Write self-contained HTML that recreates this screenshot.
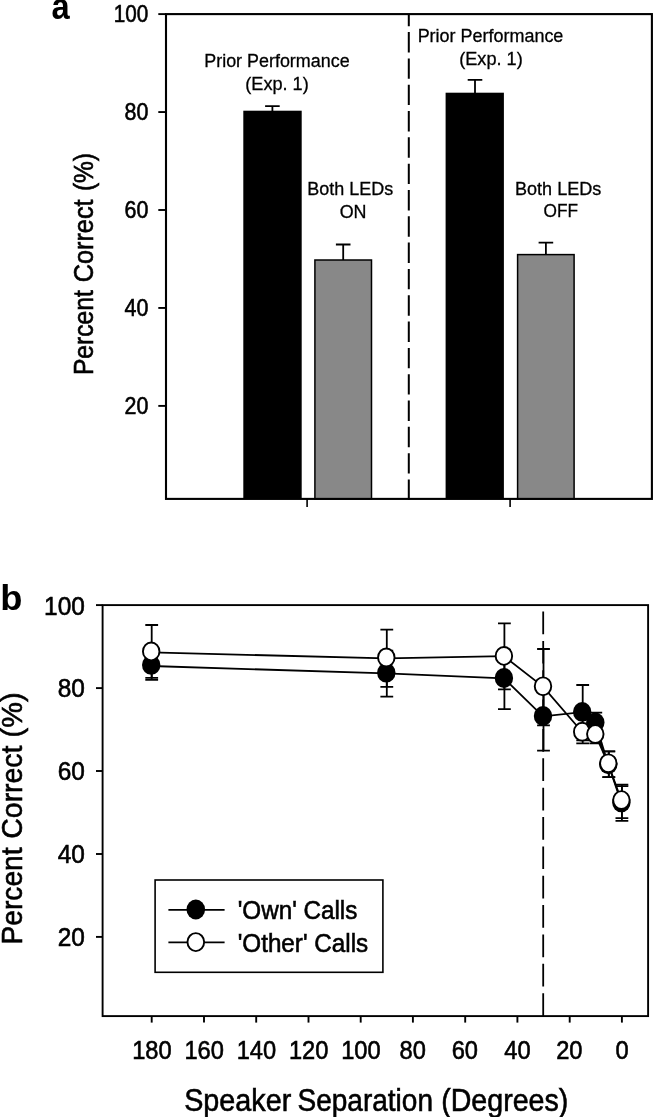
<!DOCTYPE html>
<html><head><meta charset="utf-8"><title>Figure</title>
<style>html,body{margin:0;padding:0;background:#fff;}body{width:653px;height:1117px;overflow:hidden;}svg{display:block;will-change:transform;filter:grayscale(1);}text{font-family:"Liberation Sans",sans-serif;fill:#000;}</style>
</head><body>
<svg width="653" height="1117" viewBox="0 0 653 1117">
<rect x="0" y="0" width="653" height="1117" fill="#fff"/>
<g id="panelA">
<text transform="translate(51.55 19.30) scale(0.9068 1)" font-size="36.00" font-weight="bold">a</text>
<rect x="243.3" y="110.7" width="58.4" height="388.2" fill="#000"/>
<rect x="445.6" y="92.7" width="58.3" height="406.2" fill="#000"/>
<rect x="314.9" y="260" width="56.6" height="238.9" fill="#888" stroke="#000" stroke-width="1.5"/>
<rect x="517.6" y="254.6" width="56.5" height="244.3" fill="#888" stroke="#000" stroke-width="1.5"/>
<path d="M272.4 111V106.1M265.09999999999997 106.1H279.7" stroke="#000" stroke-width="1.8" fill="none"/>
<path d="M343.2 260V244.5M335.9 244.5H350.5" stroke="#000" stroke-width="1.8" fill="none"/>
<path d="M475 93V79.9M467.7 79.9H482.3" stroke="#000" stroke-width="1.8" fill="none"/>
<path d="M545.9 255V242.7M538.6 242.7H553.1999999999999" stroke="#000" stroke-width="1.8" fill="none"/>
<path d="M408.8 499.9V14" stroke="#000" stroke-width="2" stroke-dasharray="20.4 5.92" fill="none"/>
<rect x="166.0" y="14.1" width="485.9" height="484.8" fill="none" stroke="#000" stroke-width="2.1"/>
<path d="M158.3 14.10H166" stroke="#000" stroke-width="1.9"/>
<text transform="translate(113.78 21.64) scale(0.8680 1)" font-size="23.85" stroke="#000" stroke-width="0.6">100</text>
<path d="M158.3 112.05H166" stroke="#000" stroke-width="1.9"/>
<text transform="translate(124.52 120.09) scale(0.8980 1)" font-size="23.85" stroke="#000" stroke-width="0.6">80</text>
<path d="M158.3 210.00H166" stroke="#000" stroke-width="1.9"/>
<text transform="translate(124.52 218.09) scale(0.8980 1)" font-size="23.85" stroke="#000" stroke-width="0.6">60</text>
<path d="M158.3 307.95H166" stroke="#000" stroke-width="1.9"/>
<text transform="translate(124.52 315.79) scale(0.8980 1)" font-size="23.85" stroke="#000" stroke-width="0.6">40</text>
<path d="M158.3 405.90H166" stroke="#000" stroke-width="1.9"/>
<text transform="translate(124.52 413.79) scale(0.8980 1)" font-size="23.85" stroke="#000" stroke-width="0.6">20</text>
<path d="M307.1 498.9V507.1" stroke="#000" stroke-width="1.6"/>
<path d="M510.1 498.9V507.1" stroke="#000" stroke-width="1.6"/>
<text transform="translate(93.10 375.12) rotate(-90) scale(0.8685 1)" font-size="28.40" stroke="#000" stroke-width="0.6">Percent</text>
<text transform="translate(93.10 282.29) rotate(-90) scale(0.8909 1)" font-size="28.40" stroke="#000" stroke-width="0.6">Correct</text>
<text transform="translate(93.10 191.12) rotate(-90) scale(0.8637 1)" font-size="28.40" stroke="#000" stroke-width="0.6">(%)</text>
<text transform="translate(204.23 67.40) scale(0.9536 1)" font-size="18.80" stroke="#000" stroke-width="0.3">Prior Performance</text>
<text transform="translate(245.28 90.20) scale(0.9640 1)" font-size="18.80" stroke="#000" stroke-width="0.3">(Exp. 1)</text>
<text transform="translate(417.63 42.40) scale(0.9562 1)" font-size="18.80" stroke="#000" stroke-width="0.3">Prior Performance</text>
<text transform="translate(459.17 65.30) scale(0.9655 1)" font-size="18.80" stroke="#000" stroke-width="0.3">(Exp. 1)</text>
<text transform="translate(307.33 194.75) scale(0.9561 1)" font-size="18.80" stroke="#000" stroke-width="0.3">Both LEDs</text>
<text transform="translate(339.66 217.55) scale(0.9537 1)" font-size="18.80" stroke="#000" stroke-width="0.3">ON</text>
<text transform="translate(515.02 194.85) scale(0.9607 1)" font-size="18.80" stroke="#000" stroke-width="0.3">Both LEDs</text>
<text transform="translate(543.59 217.45) scale(0.9176 1)" font-size="18.80" stroke="#000" stroke-width="0.3">OFF</text>
</g>
<g id="panelB">
<text transform="translate(0.20 609.70) scale(1.0404 1)" font-size="34.90" font-weight="bold">b</text>
<path d="M543.2 1015.9V605" stroke="#000" stroke-width="1.8" stroke-dasharray="22.7 6.66" fill="none"/>
<path d="M151.7 655.0V679.9M145.3 655.0H158.1M145.3 679.9H158.1" stroke="#000" stroke-width="1.8" fill="none"/>
<path d="M386.8 650.6V696.6M380.4 650.6H393.2M380.4 696.6H393.2" stroke="#000" stroke-width="1.8" fill="none"/>
<path d="M504.4 649.6V709.2M498.0 649.6H510.8M498.0 709.2H510.8" stroke="#000" stroke-width="1.8" fill="none"/>
<path d="M543.5 681.4V750.6M537.1 681.4H549.9M537.1 750.6H549.9" stroke="#000" stroke-width="1.8" fill="none"/>
<path d="M582.7 685.0V740.4M576.3 685.0H589.1M576.3 740.4H589.1" stroke="#000" stroke-width="1.8" fill="none"/>
<path d="M595.8 712.7V732.2M589.4 712.7H602.2M589.4 732.2H602.2" stroke="#000" stroke-width="1.8" fill="none"/>
<path d="M608.8 751.4V777.1M602.4 751.4H615.2M602.4 777.1H615.2" stroke="#000" stroke-width="1.8" fill="none"/>
<path d="M621.9 786.2V820.9M615.5 786.2H628.3M615.5 820.9H628.3" stroke="#000" stroke-width="1.8" fill="none"/>
<path d="M151.7 625.0V677.9M145.3 625.0H158.1M145.3 677.9H158.1" stroke="#000" stroke-width="1.8" fill="none"/>
<path d="M386.8 629.7V686.9M380.4 629.7H393.2M380.4 686.9H393.2" stroke="#000" stroke-width="1.8" fill="none"/>
<path d="M504.4 623.4V689.4M498.0 623.4H510.8M498.0 689.4H510.8" stroke="#000" stroke-width="1.8" fill="none"/>
<path d="M543.5 649.0V725.4M537.1 649.0H549.9M537.1 725.4H549.9" stroke="#000" stroke-width="1.8" fill="none"/>
<path d="M582.7 726.0V743.4M576.3 726.0H589.1M576.3 743.4H589.1" stroke="#000" stroke-width="1.8" fill="none"/>
<path d="M595.8 727.0V743.4M589.4 727.0H602.2M589.4 743.4H602.2" stroke="#000" stroke-width="1.8" fill="none"/>
<path d="M608.8 751.4V777.1M602.4 751.4H615.2M602.4 777.1H615.2" stroke="#000" stroke-width="1.8" fill="none"/>
<path d="M621.9 784.7V818.1M615.5 784.7H628.3M615.5 818.1H628.3" stroke="#000" stroke-width="1.8" fill="none"/>
<polyline points="151.2,666.0 386.3,673.4 503.9,678.3 543.0,716.3 582.2,712.2 595.3,722.8 608.3,764.5 621.4,802.6" fill="none" stroke="#000" stroke-width="1.8"/>
<polyline points="151.2,652.4 386.3,658.4 503.9,656.2 543.0,686.6 582.2,732.0 595.3,734.4 608.3,764.0 621.4,800.6" fill="none" stroke="#000" stroke-width="1.8"/>
<polygon points="595.3,722.8 608.3,764.5 621.4,802.6 621.4,800.6 608.3,764.0 595.3,734.4" fill="#000"/>
<ellipse cx="151.2" cy="664.9" rx="9.2" ry="9.9" fill="#000"/>
<ellipse cx="151.2" cy="651.4" rx="8.25" ry="8.950000000000001" fill="#fff" stroke="#000" stroke-width="1.9"/>
<ellipse cx="386.3" cy="672.7" rx="9.2" ry="9.9" fill="#000"/>
<ellipse cx="386.3" cy="657.5" rx="8.25" ry="8.950000000000001" fill="#fff" stroke="#000" stroke-width="1.9"/>
<ellipse cx="503.9" cy="678.0" rx="9.2" ry="9.9" fill="#000"/>
<ellipse cx="503.9" cy="655.9" rx="8.25" ry="8.950000000000001" fill="#fff" stroke="#000" stroke-width="1.9"/>
<ellipse cx="543.0" cy="716.0" rx="9.2" ry="9.9" fill="#000"/>
<ellipse cx="543.0" cy="686.3" rx="8.25" ry="8.950000000000001" fill="#fff" stroke="#000" stroke-width="1.9"/>
<ellipse cx="582.2" cy="711.9" rx="9.2" ry="9.9" fill="#000"/>
<ellipse cx="582.2" cy="731.7" rx="8.25" ry="8.950000000000001" fill="#fff" stroke="#000" stroke-width="1.9"/>
<ellipse cx="595.3" cy="722.5" rx="9.2" ry="9.9" fill="#000"/>
<ellipse cx="595.3" cy="734.1" rx="8.25" ry="8.950000000000001" fill="#fff" stroke="#000" stroke-width="1.9"/>
<ellipse cx="608.3" cy="764.3" rx="9.2" ry="9.9" fill="#000"/>
<ellipse cx="608.3" cy="763.3" rx="8.25" ry="8.950000000000001" fill="#fff" stroke="#000" stroke-width="1.9"/>
<ellipse cx="621.4" cy="802.4" rx="9.2" ry="9.9" fill="#000"/>
<ellipse cx="621.4" cy="800.1" rx="8.25" ry="8.950000000000001" fill="#fff" stroke="#000" stroke-width="1.9"/>
<rect x="102.6" y="605.1" width="545.5" height="411.0" fill="none" stroke="#000" stroke-width="1.9"/>
<path d="M96 605.1H102.6" stroke="#000" stroke-width="1.9"/>
<text transform="translate(44.09 614.60) scale(0.9400 1)" font-size="26.00" stroke="#000" stroke-width="0.6">100</text>
<path d="M96 688.1H102.6" stroke="#000" stroke-width="1.9"/>
<text transform="translate(57.68 696.85) scale(0.9400 1)" font-size="26.00" stroke="#000" stroke-width="0.6">80</text>
<path d="M96 771.0H102.6" stroke="#000" stroke-width="1.9"/>
<text transform="translate(57.68 779.80) scale(0.9400 1)" font-size="26.00" stroke="#000" stroke-width="0.6">60</text>
<path d="M96 854.0H102.6" stroke="#000" stroke-width="1.9"/>
<text transform="translate(57.68 862.75) scale(0.9400 1)" font-size="26.00" stroke="#000" stroke-width="0.6">40</text>
<path d="M96 936.9H102.6" stroke="#000" stroke-width="1.9"/>
<text transform="translate(57.68 945.70) scale(0.9400 1)" font-size="26.00" stroke="#000" stroke-width="0.6">20</text>
<path d="M621.9 1016.1V1022.6" stroke="#000" stroke-width="1.9"/>
<text transform="translate(615.42 1058.60) scale(0.9100 1)" font-size="26.00" stroke="#000" stroke-width="0.6">0</text>
<path d="M569.7 1016.1V1022.6" stroke="#000" stroke-width="1.9"/>
<text transform="translate(556.17 1058.60) scale(0.9100 1)" font-size="26.00" stroke="#000" stroke-width="0.6">20</text>
<path d="M517.4 1016.1V1022.6" stroke="#000" stroke-width="1.9"/>
<text transform="translate(504.25 1058.60) scale(0.9100 1)" font-size="26.00" stroke="#000" stroke-width="0.6">40</text>
<path d="M465.2 1016.1V1022.6" stroke="#000" stroke-width="1.9"/>
<text transform="translate(451.68 1058.60) scale(0.9100 1)" font-size="26.00" stroke="#000" stroke-width="0.6">60</text>
<path d="M412.9 1016.1V1022.6" stroke="#000" stroke-width="1.9"/>
<text transform="translate(399.54 1058.60) scale(0.9100 1)" font-size="26.00" stroke="#000" stroke-width="0.6">80</text>
<path d="M360.7 1016.1V1022.6" stroke="#000" stroke-width="1.9"/>
<text transform="translate(341.13 1058.60) scale(0.9100 1)" font-size="26.00" stroke="#000" stroke-width="0.6">100</text>
<path d="M308.5 1016.1V1022.6" stroke="#000" stroke-width="1.9"/>
<text transform="translate(288.89 1058.60) scale(0.9100 1)" font-size="26.00" stroke="#000" stroke-width="0.6">120</text>
<path d="M256.2 1016.1V1022.6" stroke="#000" stroke-width="1.9"/>
<text transform="translate(236.65 1058.60) scale(0.9100 1)" font-size="26.00" stroke="#000" stroke-width="0.6">140</text>
<path d="M204.0 1016.1V1022.6" stroke="#000" stroke-width="1.9"/>
<text transform="translate(184.41 1058.60) scale(0.9100 1)" font-size="26.00" stroke="#000" stroke-width="0.6">160</text>
<path d="M151.7 1016.1V1022.6" stroke="#000" stroke-width="1.9"/>
<text transform="translate(132.17 1058.60) scale(0.9100 1)" font-size="26.00" stroke="#000" stroke-width="0.6">180</text>
<text transform="translate(21.90 944.51) rotate(-90) scale(0.9393 1)" font-size="30.00" stroke="#000" stroke-width="0.6">Percent</text>
<text transform="translate(21.90 838.65) rotate(-90) scale(0.9469 1)" font-size="30.00" stroke="#000" stroke-width="0.6">Correct</text>
<text transform="translate(21.90 737.39) rotate(-90) scale(0.9644 1)" font-size="30.00" stroke="#000" stroke-width="0.6">(%)</text>
<text transform="translate(184.18 1110.80) scale(0.8986 1)" font-size="32.00" stroke="#000" stroke-width="0.6">Speaker</text>
<text transform="translate(297.51 1110.80) scale(0.8755 1)" font-size="32.00" stroke="#000" stroke-width="0.6">Separation</text>
<text transform="translate(441.13 1110.80) scale(0.8944 1)" font-size="32.00" stroke="#000" stroke-width="0.6">(Degrees)</text>
<rect x="155.1" y="880" width="227.8" height="92.3" fill="#fff" stroke="#000" stroke-width="1.6"/>
<path d="M168.4 909.8H224.6M168.4 942.4H224.6" stroke="#000" stroke-width="1.7"/>
<ellipse cx="195.8" cy="909.5" rx="9.299999999999999" ry="9.950000000000001" fill="#000"/>
<ellipse cx="195.8" cy="942.1" rx="8.35" ry="9.0" fill="#fff" stroke="#000" stroke-width="1.9"/>
<text transform="translate(237.66 918.90) scale(0.9120 1)" font-size="26.60" stroke="#000" stroke-width="0.6">'Own' Calls</text>
<text transform="translate(237.66 951.70) scale(0.9122 1)" font-size="26.60" stroke="#000" stroke-width="0.6">'Other' Calls</text>
</g>
</svg>
</body></html>
